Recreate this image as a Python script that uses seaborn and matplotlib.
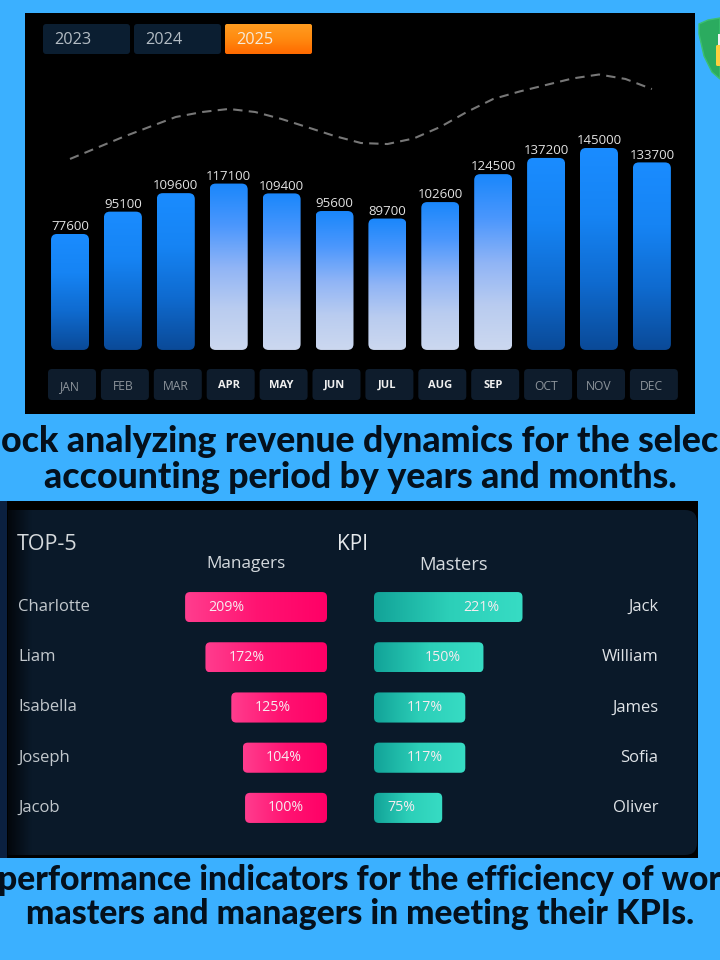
import numpy as np
import matplotlib
matplotlib.use('Agg')
import matplotlib.pyplot as plt
import seaborn as sns
from matplotlib.colors import LinearSegmentedColormap
from matplotlib.patches import FancyBboxPatch, Polygon, Rectangle
from matplotlib.transforms import ScaledTranslation

months = ['JAN', 'FEB', 'MAR', 'APR', 'MAY', 'JUN', 'JUL', 'AUG', 'SEP', 'OCT', 'NOV', 'DEC']
revenue = [77600, 95100, 109600, 117100, 109400, 95600, 89700, 102600, 124500, 137200, 145000, 133700]
selected_months = ['APR', 'MAY', 'JUN', 'JUL', 'AUG', 'SEP']
years = ['2023', '2024', '2025']

trend_pos = [0, 0.5, 1, 1.5, 2, 2.5, 3, 3.5, 4, 4.5, 5, 5.5, 6, 6.5, 7, 7.5, 8, 8.5, 9, 9.5, 10, 10.5, 11]
trend_values = [136400, 145000, 153600, 161500, 169300, 173200, 175600, 173200, 167700, 161100, 154400, 148900,
                148100, 152500, 161500, 173200, 183400, 189300, 194400, 199500, 202600, 199100, 191200]

managers = ['Charlotte', 'Liam', 'Isabella', 'Joseph', 'Jacob']
managers_kpi = [209, 172, 125, 104, 100]
masters = ['Jack', 'William', 'James', 'Sofia', 'Oliver']
masters_kpi = [221, 150, 117, 117, 75]

caption_top = ['ock analyzing revenue dynamics for the selec', 'accounting period by years and months.']
caption_bottom = ['performance indicators for the efficiency of wor', 'masters and managers in meeting their KPIs.']

SKY = '#3bb0ff'
PANEL = '#0a1929'
UI_FONT = 'Open Sans'
# gradient stops run from the base of a bar to its tip
DARK_BAR = ['#0a4a98', '#0f6bd0', '#1684f4', '#1a8cff']
LIGHT_BAR = ['#ccd8ef', '#b9ccf0', '#8fb4f6', '#4b97fd', '#1a87fb']
PINK_BAR = ['#ff0066', '#ff1472', '#ff3d8e']
TEAL_BAR = ['#12a398', '#2ccfb8', '#37dcc4']


def px_axes(fig, left, top, right, bottom):
    # axes placed by pixel edges of the 720x960 canvas
    return fig.add_axes([left / 720, 1 - bottom / 960, (right - left) / 720, (bottom - top) / 960])


def round_box(ax, left, top, right, bottom, color, radius=4, **kw):
    box = FancyBboxPatch((left, top), right - left, bottom - top,
                         boxstyle=f'round,pad=0,rounding_size={radius}',
                         facecolor=color, edgecolor='none', **kw)
    ax.add_patch(box)
    return box


def gradient_bar(ax, x0, x1, y0, y1, colors, horizontal, radius=6):
    # rounded bar filled with an image clipped to its outline, x0/y0 is the base end
    bbox = ax.get_window_extent()
    x_scale = bbox.width / abs(ax.get_xlim()[1] - ax.get_xlim()[0])
    y_scale = bbox.height / abs(ax.get_ylim()[1] - ax.get_ylim()[0])
    outline = FancyBboxPatch((min(x0, x1), min(y0, y1)), abs(x1 - x0), abs(y1 - y0),
                             boxstyle=f'round,pad=0,rounding_size={radius / x_scale}',
                             mutation_aspect=x_scale / y_scale,
                             facecolor='none', edgecolor='none')
    ax.add_patch(outline)
    cmap = LinearSegmentedColormap.from_list('bar', colors)
    ramp = np.linspace(0, 1, 128)
    ramp = ramp[None, :] if horizontal else ramp[:, None]
    im = ax.imshow(ramp, extent=(x0, x1, y1, y0), origin='upper', cmap=cmap, aspect='auto',
                   interpolation='bilinear', zorder=2)
    im.set_clip_path(outline)


sns.set_theme(style='white', rc={'figure.facecolor': SKY, 'axes.facecolor': 'none'})
plt.rcParams['font.family'] = [UI_FONT, 'DejaVu Sans']

fig = plt.figure(figsize=(7.2, 9.6), dpi=100)

# backdrop in canvas pixels
bg = fig.add_axes([0, 0, 1, 1], zorder=0)
bg.set_xlim(0, 720)
bg.set_ylim(960, 0)
bg.set_autoscale_on(False)
bg.axis('off')
bg.add_patch(Rectangle((25, 13), 670, 401, color='black', lw=0))
bg.add_patch(Rectangle((0, 501), 698, 357, color='black', lw=0))
bg.add_patch(Rectangle((0, 501), 7, 357, color='#0b2040', lw=0))
round_box(bg, 8, 510, 697, 855, PANEL, radius=12)
fade = LinearSegmentedColormap.from_list('fade', ['#03070c', PANEL])
bg.imshow(np.linspace(0, 1, 32)[None, :], extent=(8, 32, 855, 510), origin='upper', cmap=fade,
          aspect='auto', zorder=1.5)

# year slicer
for i, year in enumerate(years):
    left = 43 + 91 * i
    if year == '2025':
        box = round_box(bg, left, 24, left + 87, 54, 'none', radius=2)
        cmap = LinearSegmentedColormap.from_list('orange', ['#ff9c20', '#ff8a10', '#ff6a00'])
        im = bg.imshow(np.linspace(0, 1, 64)[:, None], extent=(left, left + 87, 54, 24), origin='upper',
                       cmap=cmap, aspect='auto', zorder=2)
        im.set_clip_path(box)
    else:
        round_box(bg, left, 24, left + 87, 54, '#0b1e31', radius=3)
    bg.text(left + 11, 39.5, year, fontsize=11.7, va='center', zorder=3,
            color='#f6ead9' if year == '2025' else '#b3bcc4')

# month slicer buttons behind the tick labels
for i in range(len(months)):
    left = 48 + 52.9 * i
    round_box(bg, left, 369, left + 48, 400, '#0e1c2c', radius=4)

# shield icon cut by the canvas edge
bg.add_patch(Polygon([(699, 24), (708, 20), (720, 18), (720, 79), (712, 72), (704, 56), (699, 34)],
                     closed=True, facecolor='#2bab5f', edgecolor='#3cc070', lw=1))
bg.add_patch(Rectangle((718, 34), 2, 12, color='#f2f2f2', lw=0))
round_box(bg, 716, 45, 722, 66, '#ffd040', radius=1.5)

# revenue bars
ax = px_axes(fig, 25, 13, 695, 414)
ax.set_zorder(1)
bar_width = 38 / 52.9
sns.barplot(x=months, y=revenue, ax=ax, width=bar_width, color='#1a8cff')
ax.set_xlim(-0.851, 11.815)
ax.set_ylim(-63500, 250800)
ax.set_autoscale_on(False)
base = -13300
bars = ax.containers[0]
for month, bar in zip(months, bars):
    bar.set_visible(False)
    colors = LIGHT_BAR if month in selected_months else DARK_BAR
    gradient_bar(ax, bar.get_x(), bar.get_x() + bar.get_width(), base, bar.get_height(), colors, False)
ax.bar_label(bars, fmt='%d', padding=0.5, fontsize=9.5, color='#e2e2e2', zorder=4)

sns.lineplot(x=trend_pos, y=trend_values, ax=ax, color='#777777', linewidth=1.5)
ax.lines[-1].set_dashes((4.5, 3))

ax.set_xlabel('')
ax.set_ylabel('')
ax.set_yticks([])
ax.set_xticks(range(len(months)))
ax.set_xticklabels(months)
ax.tick_params(axis='x', length=0, pad=-24.5, labelsize=8)
for label, month in zip(ax.get_xticklabels(), months):
    if month in selected_months:
        label.set_color('#f0f0f0')
        label.set_fontweight('bold')
    else:
        label.set_color('#8d949b')
        label.set_fontsize(8.7)
sns.despine(ax=ax, left=True, bottom=True)

# KPI bars, both charts grow out from the gap in the middle
row_top, row_bottom = 582, 833
kpi_base = -49
px_per_pct = 0.55

left_ax = px_axes(fig, 18, row_top, 327, row_bottom)
right_ax = px_axes(fig, 374, row_top, 658, row_bottom)
panels = [(left_ax, managers, managers_kpi, PINK_BAR, 41),
          (right_ax, masters, masters_kpi, TEAL_BAR, -41)]
for panel, names, kpi, colors, label_shift in panels:
    panel.set_zorder(1)
    sns.barplot(x=kpi, y=names, ax=panel, orient='y', width=0.6, color=colors[0])
    span = (panel.get_window_extent().width / (fig.dpi / 100)) / px_per_pct
    if panel is left_ax:
        panel.set_xlim(kpi_base + span, kpi_base)
    else:
        panel.set_xlim(kpi_base, kpi_base + span)
    panel.set_ylim(4.5, -0.5)
    panel.set_autoscale_on(False)
    for value, bar in zip(kpi, panel.containers[0]):
        bar.set_visible(False)
        gradient_bar(panel, kpi_base, value, bar.get_y(), bar.get_y() + bar.get_height(), colors, True, radius=5)
        panel.annotate(f'{value}%', (value, bar.get_y() + bar.get_height() / 2), xytext=(label_shift * 0.72, 0),
                       textcoords='offset points', ha='center', va='center', fontsize=10.2,
                       color='#f7ecf0', zorder=4)
    panel.set_xlabel('')
    panel.set_ylabel('')
    panel.set_xticks([])
    sns.despine(ax=panel, left=True, bottom=True)

nudge = ScaledTranslation(0, 1.5 / 72, fig.dpi_scale_trans)
left_ax.tick_params(axis='y', length=0, pad=0, labelsize=12, labelcolor='#c2c8cd')
for label in left_ax.get_yticklabels():
    label.set_ha('left')
    label.set_transform(label.get_transform() + nudge)
right_ax.yaxis.tick_right()
right_ax.tick_params(axis='y', length=0, pad=0, labelsize=12, labelcolor='#dfe3e7')
for label in right_ax.get_yticklabels():
    label.set_ha('right')
    label.set_transform(label.get_transform() + nudge)

bg.text(17, 544, 'TOP-5', fontsize=15.5, color='#d5d9dc', va='center', zorder=3)
bg.text(337, 544, 'KPI', fontsize=15, color='#e6e9ec', va='center', zorder=3)
bg.text(246.5, 564, 'Managers', fontsize=12.3, color='#d5dade', va='center', ha='center', zorder=3)
bg.text(454, 565, 'Masters', fontsize=13.2, color='#d5dade', va='center', ha='center', zorder=3)

# captions on the blue strips
caption_lines = zip(caption_top + caption_bottom, [442, 478, 880, 914], [25.7, 25.7, 24.3, 24.3])
for text, y, size in caption_lines:
    bg.text(360, y, text, fontsize=size, fontweight=900, family=['Lato', 'DejaVu Sans'],
            color='#04101c', ha='center', va='center', zorder=3)

fig.savefig('out.png', dpi=100, facecolor=SKY)
